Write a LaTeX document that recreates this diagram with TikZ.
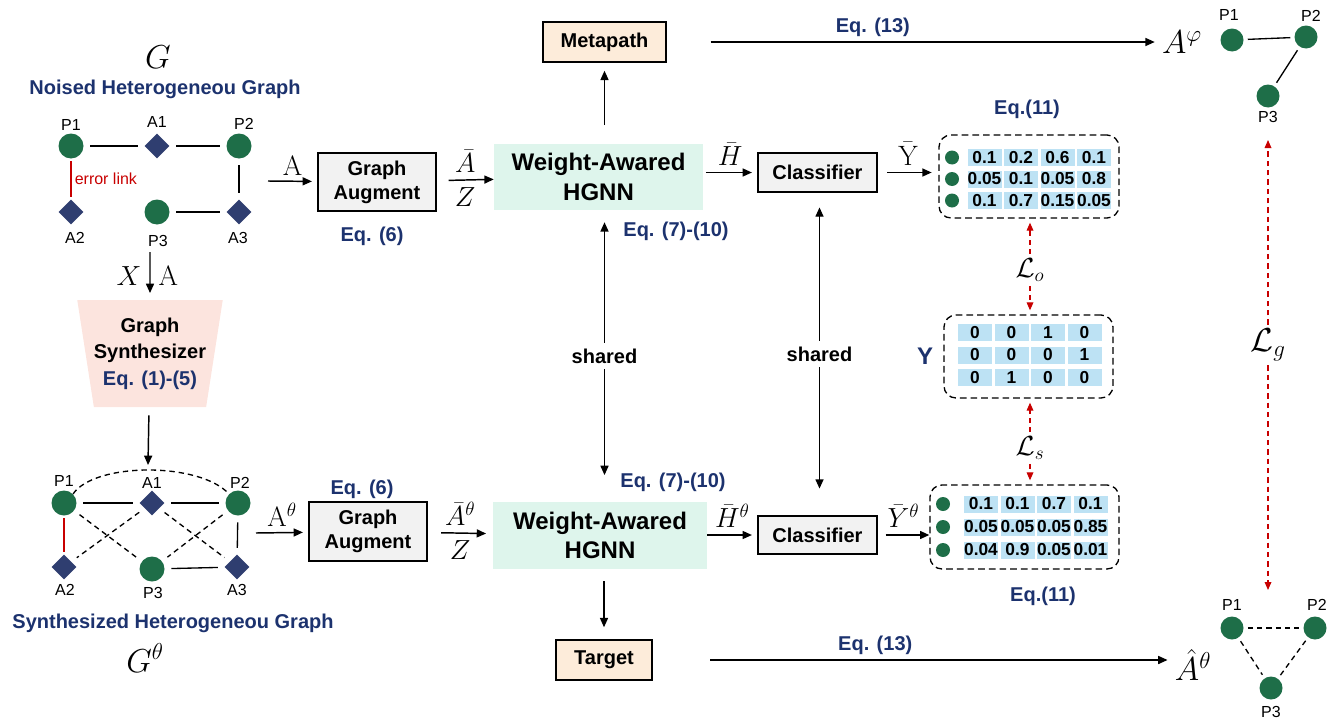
\documentclass[tikz,border=0pt]{standalone}
\usepackage{fontspec}
\newfontfamily\arialf{Liberation Sans}
\usetikzlibrary{arrows.meta,shapes.geometric,positioning}

\definecolor{eqblue}{RGB}{28,50,110}
\definecolor{pgreen}{RGB}{30,110,72}
\definecolor{anavy}{RGB}{47,62,112}
\definecolor{errred}{RGB}{200,0,0}
\definecolor{auggray}{RGB}{242,242,242}
\definecolor{hgmint}{RGB}{222,245,236}
\definecolor{peach}{RGB}{253,236,218}
\definecolor{cellblue}{RGB}{189,226,244}
\definecolor{synthpink}{RGB}{252,228,222}

\newcommand*{\px}{0.75pt}

\begin{document}
\begin{tikzpicture}
[
	x=0.75pt, y=-0.75pt,
	pnode/.style={circle,fill=pgreen,inner sep=0pt,minimum size=25*\px},
	anode/.style={diamond,fill=anavy,inner sep=0pt,minimum size=25*\px},
	vlbl/.style={font=\arialf\fontsize{12}{14}\selectfont},
	eqlbl/.style={text=eqblue,font=\arialf\bfseries\fontsize{15}{18}\selectfont},
	mlbl/.style={font=\fontsize{21}{24}\selectfont,inner sep=1pt},
	biglbl/.style={font=\fontsize{23}{26}\selectfont},
	box/.style={draw,line width=1.1pt,align=center,inner sep=0pt,font=\arialf\bfseries\fontsize{15}{18}\selectfont},
	hgbox/.style={fill=hgmint,align=center,inner sep=0pt,font=\arialf\bfseries\fontsize{18}{22}\selectfont},
	cell/.style={fill=cellblue,inner sep=0pt,minimum width=34*\px,minimum height=17*\px,font=\arialf\bfseries\fontsize{13}{15}\selectfont},
	matbox/.style={draw,dash pattern=on 5pt off 3pt,line width=1pt,rounded corners=9pt,inner sep=0pt},
	edge/.style={line width=1pt,shorten >=5pt,shorten <=5pt},
	dedge/.style={edge,dash pattern=on 4pt off 3pt},
	arr/.style={-{Triangle[length=7pt,width=6pt]},line width=1.1pt},
	darr/.style={{Triangle[length=7pt,width=6pt]}-{Triangle[length=7pt,width=6pt]},line width=1.1pt},
	loss/.style={-{Triangle[length=6pt,width=5pt]},errred,dash pattern=on 4pt off 3pt,line width=0.9pt}
]
	\useasboundingbox (0,0) rectangle (1335,721);

	% noised graph
	\node[biglbl] at (158,57) (G) {$G$};
	\node[eqlbl] at (165,89) (gtitle) {Noised Heterogeneou Graph};
	\node[pnode] at (71,146) (gP1) {};
	\node[anode] at (157,146) (gA1) {};
	\node[pnode] at (239,146) (gP2) {};
	\node[anode] at (71,212) (gA2) {};
	\node[pnode] at (157,212) (gP3) {};
	\node[anode] at (239,212) (gA3) {};
	\node[vlbl] at (71,125) (gP1l) {P1};
	\node[vlbl] at (157,122) (gA1l) {A1};
	\node[vlbl] at (244,124) (gP2l) {P2};
	\node[vlbl] at (75,238) (gA2l) {A2};
	\node[vlbl] at (158,241) (gP3l) {P3};
	\node[vlbl] at (238,238) (gA3l) {A3};
	\draw[edge] (gP1) -- (gA1);
	\draw[edge] (gA1) -- (gP2);
	\draw[edge] (gP2) -- (gA3);
	\draw[edge] (gP3) -- (gA3);
	\draw[edge,errred,shorten <=2pt,shorten >=2pt] (gP1) -- node[vlbl,right=-1pt,text=errred] (errl) {error link} (gA2);

	% synthesizer
	\coordinate (xaTop) at (150,252);
	\node[trapezium,shape border rotate=180,trapezium stretches=true,trapezium angle=77,
		minimum width=124*\px,minimum height=107*\px,inner sep=0pt,fill=synthpink,align=center,
		font=\arialf\bfseries\fontsize{15}{20}\selectfont] at (150,353.5) (synth)
		{Graph\\Synthesizer\\\textcolor{eqblue}{Eq. (1)-(5)}};
	\draw[arr,shorten >=5pt] (xaTop) -- node[mlbl,left=5pt] (xl) {$X$} node[mlbl,right=5pt] (al) {$\mathrm{A}$} (synth);
	\coordinate (sIn) at (148,465);
	\draw[arr,shorten <=6pt] (synth) -- (sIn);

	% synthesized graph
	\node[pnode] at (64,503) (sP1) {};
	\node[anode] at (152,503) (sA1) {};
	\node[pnode] at (238,503) (sP2) {};
	\node[anode] at (64,567) (sA2) {};
	\node[pnode] at (152,569) (sP3) {};
	\node[anode] at (237,567) (sA3) {};
	\node[vlbl] at (64,481) (sP1l) {P1};
	\node[vlbl] at (152,483) (sA1l) {A1};
	\node[vlbl] at (240,483) (sP2l) {P2};
	\node[vlbl] at (65,590) (sA2l) {A2};
	\node[vlbl] at (153,593) (sP3l) {P3};
	\node[vlbl] at (237,590) (sA3l) {A3};
	\draw[edge] (sP1) -- (sA1);
	\draw[edge] (sA1) -- (sP2);
	\draw[edge] (sP2) -- (sA3);
	\draw[edge] (sP3) -- (sA3);
	\draw[edge,errred,shorten <=2pt,shorten >=2pt] (sP1) -- (sA2);
	\draw[dedge] (sP1) -- (sP3);
	\draw[dedge] (sA1) -- (sA2);
	\draw[dedge] (sA1) -- (sA3);
	\draw[dedge] (sP2) -- (sP3);
	\draw[line width=1pt,dash pattern=on 4pt off 3pt] (sP1.north east) .. controls (95,462) and (200,462) .. (sP2.north west);
	\node[eqlbl] at (173,623) (stitle) {Synthesized Heterogeneou Graph};
	\node[biglbl] at (145,658) (Gt) {$G^{\theta}$};

	% upper branch
	\coordinate (aIn) at (268,181);
	\node[box,fill=auggray,minimum width=118*\px,minimum height=58*\px] at (377,182) (gaug) {Graph\\Augment};
	\node[eqlbl] at (372,236) (gaugeq) {Eq. (6)};
	\node[hgbox,minimum width=209*\px,minimum height=66*\px] at (598.5,177) (ghg) {Weight-Awared\\HGNN};
	\node[eqlbl] at (676,231) (ghgeq) {Eq. (7)-(10)};
	\node[box,fill=auggray,minimum width=119*\px,minimum height=39*\px] at (817.5,172.5) (gcls) {Classifier};
	\node[box,fill=peach,minimum width=123*\px,minimum height=40*\px] at (604.5,42) (meta) {Metapath};
	\draw[arr,shorten >=4pt] (aIn) -- node[mlbl,above=3pt] (aA) {$\mathrm{A}$} (gaug);
	\draw[arr,shorten <=9pt] (gaug) -- node[mlbl,above=4pt] (aAb) {$\bar{A}$} node[mlbl,below=4pt] (aZ) {$Z$} (ghg);
	\draw[arr,shorten <=2pt,shorten >=4pt] (ghg.east |- gcls) -- node[mlbl,above=4pt] (aH) {$\bar{H}$} (gcls);
	\draw[arr,shorten <=14pt,shorten >=6pt] (ghg.north -| meta) -- (meta);

	% lower branch
	\coordinate (aInS) at (256,533);
	\node[box,fill=auggray,minimum width=118*\px,minimum height=59*\px] at (368,531.5) (saug) {Graph\\Augment};
	\node[eqlbl] at (362,489) (saugeq) {Eq. (6)};
	\node[hgbox,minimum width=214*\px,minimum height=67*\px] at (600,535.5) (shg) {Weight-Awared\\HGNN};
	\node[eqlbl] at (673,482) (shgeq) {Eq. (7)-(10)};
	\node[box,fill=auggray,minimum width=119*\px,minimum height=38*\px] at (817.5,535) (scls) {Classifier};
	\node[box,fill=peach,minimum width=96*\px,minimum height=40*\px] at (604,660) (target) {Target};
	\draw[arr,shorten >=4pt] (aInS) -- node[mlbl,above=3pt] (sA) {$\mathrm{A}^{\theta}$} (saug);
	\draw[arr,shorten <=10pt,shorten >=5pt] (saug) -- node[mlbl,above=4pt] (sAb) {$\bar{A}^{\theta}$} node[mlbl,below=4pt] (sZ) {$Z$} (shg);
	\draw[arr,shorten >=4pt] (shg.east |- scls) -- node[mlbl,above=4pt] (sH) {$\bar{H}^{\theta}$} (scls);
	\draw[arr,shorten <=9pt,shorten >=9pt] (shg.south -| target) -- (target);

	% shared
	\draw[darr,shorten <=9pt,shorten >=20pt] (ghg.south -| meta) -- node[fill=white,box,draw=none,inner sep=4pt] (sh1) {shared} (shg.north -| meta);
	\draw[darr,shorten <=11pt,shorten >=20pt] ([xshift=2*\px]gcls.south) -- node[fill=white,box,draw=none,inner sep=4pt] (sh2) {shared} ([xshift=2*\px]scls.north);

	% outputs
	\node[matbox,minimum width=180*\px,minimum height=83*\px] at (1029,176.5) (matO) {};
	\node[eqlbl] at (1027,109) (matOeq) {Eq.(11)};
	\foreach \row [count=\r] in {{0.1,0.2,0.6,0.1},{0.05,0.1,0.05,0.8},{0.1,0.7,0.15,0.05}} {
		\node[pnode,minimum size=14*\px] at (952,136+21.5*\r) (oD\r) {};
		\foreach \v [count=\c] in \row {
			\node[cell] at (948+36.5*\c,136+21.5*\r) (o\r-\c) {\v};
		}
	}
	\node[matbox,minimum width=169*\px,minimum height=83*\px] at (1028.5,356.5) (matY) {};
	\node[text=eqblue,font=\arialf\bfseries\fontsize{18}{22}\selectfont] at (925,356) (Y) {Y};
	\foreach \row [count=\r] in {{0,0,1,0},{0,0,0,1},{0,1,0,0}} {
		\foreach \v [count=\c] in \row {
			\node[cell] at (938.5+36.5*\c,310+22.5*\r) (y\r-\c) {\v};
		}
	}
	\node[matbox,minimum width=189*\px,minimum height=84*\px] at (1024.5,527) (matS) {};
	\node[eqlbl] at (1043,596) (matSeq) {Eq.(11)};
	\foreach \row [count=\r] in {{0.1,0.1,0.7,0.1},{0.05,0.05,0.05,0.85},{0.04,0.9,0.05,0.01}} {
		\node[pnode,minimum size=14*\px] at (943,481+23*\r) (sD\r) {};
		\foreach \v [count=\c] in \row {
			\node[cell] at (944.5+36.5*\c,481+23*\r) (s\r-\c) {\v};
		}
	}
	\draw[arr,shorten <=7pt,shorten >=5pt] (gcls) -- node[mlbl,above=4pt] (aY) {$\bar{\mathrm{Y}}$} (gcls -| matO.west);
	\draw[arr,shorten <=6pt] (scls) -- node[mlbl,above=4pt] (sY) {$\bar{Y}^{\theta}$} (scls -| matS.west);

	% losses
	\node[mlbl,inner sep=3pt] at (1030,270) (Lo) {$\mathcal{L}_o$};
	\node[mlbl,inner sep=3pt] at (1030,448) (Ls) {$\mathcal{L}_s$};
	\draw[loss,shorten >=3pt] (Lo) -- (Lo |- matO.south);
	\draw[loss,shorten >=3pt] (Lo) -- (Lo |- matY.north);
	\draw[loss,shorten >=3pt] (Ls) -- (Ls |- matY.south);
	\draw[loss,shorten >=3pt] (Ls) -- (Ls |- matS.north);

	% metapath graph
	\node[pnode,minimum size=23*\px] at (1232,40) (mP1) {};
	\node[pnode,minimum size=23*\px] at (1306,37) (mP2) {};
	\node[pnode,minimum size=23*\px] at (1268,96) (mP3) {};
	\node[vlbl] at (1229,15) (mP1l) {P1};
	\node[vlbl] at (1311,16) (mP2l) {P2};
	\node[vlbl] at (1268,117) (mP3l) {P3};
	\draw[edge,shorten <=3pt,shorten >=3pt] (mP1) -- (mP2);
	\draw[edge,shorten <=3pt,shorten >=3pt] (mP2) -- (mP3);
	\node[biglbl] at (1182,42) (Aphi) {$A^{\varphi}$};
	\draw[arr,shorten <=33pt,shorten >=2pt] (meta) -- node[eqlbl,above,pos=0.42] (eqm) {Eq. (13)} (Aphi);

	% target graph
	\node[pnode,minimum size=23*\px] at (1232,628) (tP1) {};
	\node[pnode,minimum size=23*\px] at (1315,628) (tP2) {};
	\node[pnode,minimum size=23*\px] at (1271,688) (tP3) {};
	\node[vlbl] at (1232,605) (tP1l) {P1};
	\node[vlbl] at (1317,605) (tP2l) {P2};
	\node[vlbl] at (1271,712) (tP3l) {P3};
	\draw[dedge,shorten <=3pt,shorten >=3pt] (tP1) -- (tP2);
	\draw[dedge,shorten <=3pt,shorten >=3pt] (tP1) -- (tP3);
	\draw[dedge,shorten <=3pt,shorten >=3pt] (tP2) -- (tP3);
	\node[biglbl] at (1193,665) (Ahat) {$\hat{A}^{\theta}$};
	\draw[arr,shorten <=43pt,shorten >=2pt] (target) -- node[eqlbl,above,pos=0.43] (eqt) {Eq. (13)} (Ahat.west |- target);

	% graph loss
	\node[font=\fontsize{27}{30}\selectfont,inner sep=3pt] at (1268,345) (Lg) {$\mathcal{L}_g$};
	\coordinate (gTop) at (1268,140);
	\coordinate (gBot) at (1268,590);
	\draw[loss] (Lg) -- (gTop);
	\draw[loss] (Lg) -- (gBot);

\end{tikzpicture}
\end{document}
